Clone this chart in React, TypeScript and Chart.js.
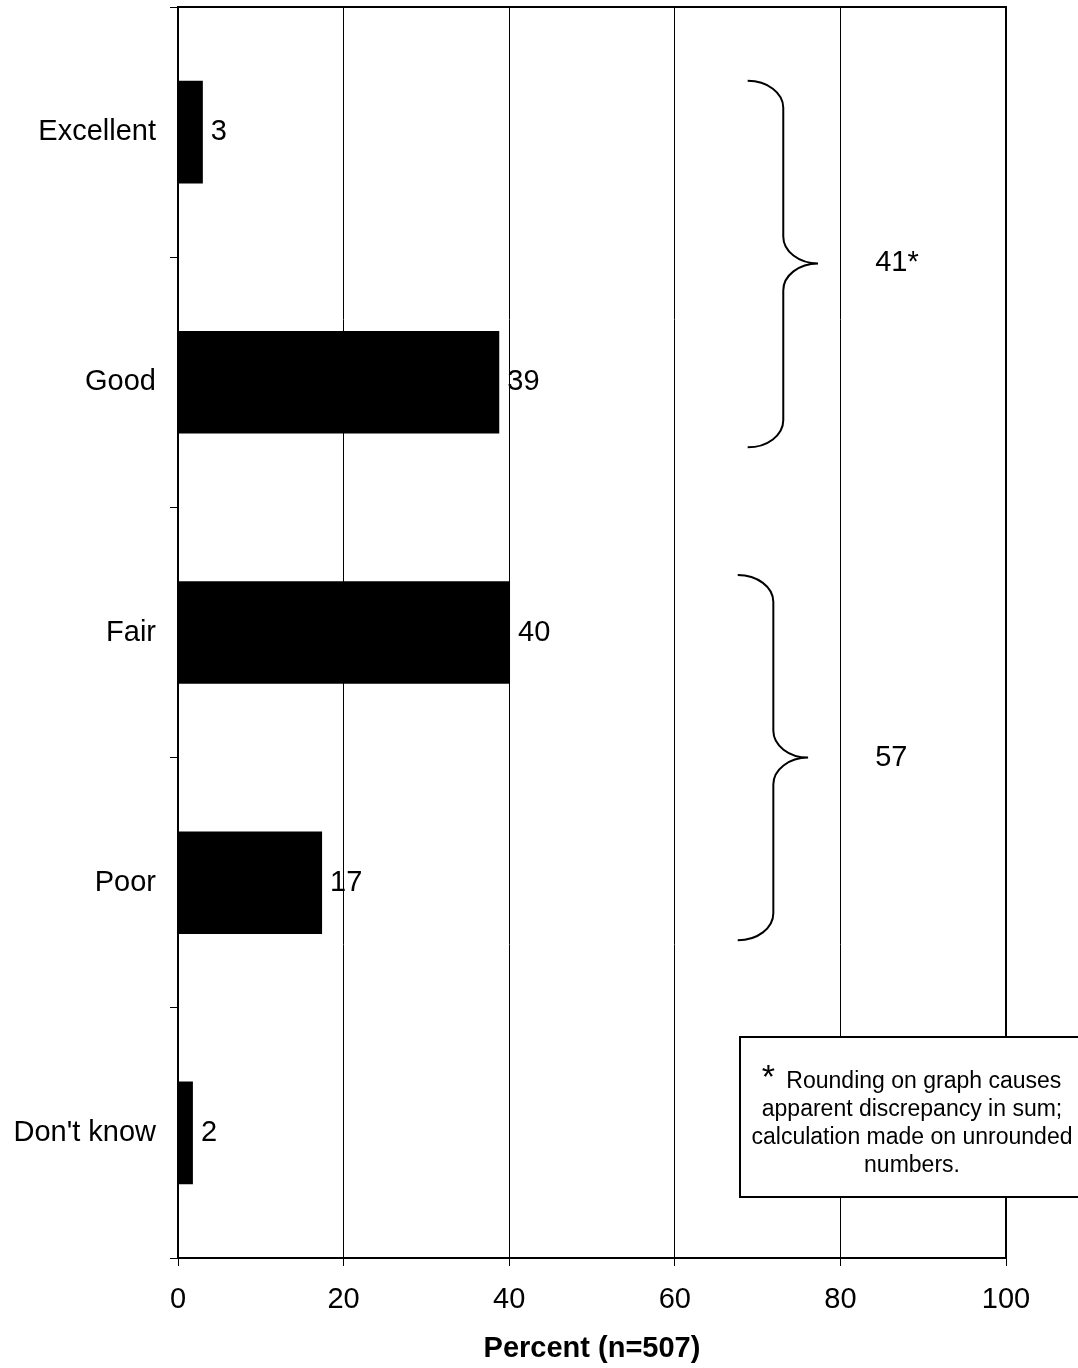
import React, { useEffect, useRef } from "react";
import { Chart, registerables } from "chart.js";

Chart.register(...registerables);

const categories = ["Excellent", "Good", "Fair", "Poor", "Don't know"];
const percentValues = [3.0, 38.8, 40.1, 17.4, 1.8];
const valueLabels = ["3", "39", "40", "17", "2"];
const xTickValues = [0, 20, 40, 60, 80, 100];
const bracketLabels = ["41*", "57"];
const bracketFirstCategory = [0, 2];
const bracketLastCategory = [1, 3];
const footnoteStar = "*";
const footnoteLines = [
  "Rounding on graph causes",
  "apparent discrepancy in sum;",
  "calculation made on unrounded",
  "numbers.",
];
const axisTitle = "Percent (n=507)";

const FONT = "'Liberation Sans', Arial, Helvetica, sans-serif";

// bracket geometry (x in data units, y as offsets in category units)
const bracketGeom = [
  { tip: 68.8, spine: 73.1, point: 77.3, topOff: -0.205, botOff: 0.26, midOff: 0.525, labelX: 84.2 },
  { tip: 67.6, spine: 71.9, point: 76.1, topOff: -0.23, botOff: 0.23, midOff: 0.5, labelX: 84.2 },
];

const framePlugin = {
  id: "frame",
  beforeDatasetsDraw(chart: any) {
    const { ctx, chartArea } = chart;
    ctx.save();
    ctx.strokeStyle = "#000";
    ctx.lineWidth = 2;
    ctx.beginPath();
    ctx.moveTo(chartArea.left, chartArea.top);
    ctx.lineTo(chartArea.right, chartArea.top);
    ctx.lineTo(chartArea.right, chartArea.bottom);
    ctx.stroke();
    ctx.restore();
  },
};

const valueLabelPlugin = {
  id: "valueLabels",
  afterDatasetsDraw(chart: any) {
    const { ctx } = chart;
    const meta = chart.getDatasetMeta(0);
    ctx.save();
    ctx.fillStyle = "#000";
    ctx.font = `29px ${FONT}`;
    ctx.textAlign = "left";
    ctx.textBaseline = "middle";
    meta.data.forEach((el: any, i: number) => {
      ctx.fillText(valueLabels[i], el.x + 8, el.y);
    });
    ctx.restore();
  },
};

const bracketPlugin = {
  id: "brackets",
  afterDatasetsDraw(chart: any) {
    const { ctx } = chart;
    const xs = chart.scales.x;
    const ys = chart.scales.y;
    const catH = Math.abs(ys.getPixelForValue(1) - ys.getPixelForValue(0));
    const k = 0.5523;
    ctx.save();
    ctx.strokeStyle = "#000";
    ctx.lineWidth = 2;
    bracketLabels.forEach((label, i) => {
      const g = bracketGeom[i];
      const tip = xs.getPixelForValue(g.tip);
      const spine = xs.getPixelForValue(g.spine);
      const point = xs.getPixelForValue(g.point);
      const top = ys.getPixelForValue(bracketFirstCategory[i]) + g.topOff * catH;
      const bottom = ys.getPixelForValue(bracketLastCategory[i]) + g.botOff * catH;
      const mid = ys.getPixelForValue(bracketFirstCategory[i]) + g.midOff * catH;
      const r = 27;
      const w = spine - tip;
      const w2 = point - spine;
      ctx.beginPath();
      ctx.moveTo(tip, top);
      ctx.bezierCurveTo(tip + k * w, top, spine, top + r - k * r, spine, top + r);
      ctx.lineTo(spine, mid - r);
      ctx.bezierCurveTo(spine, mid - r + k * r, point - k * w2, mid, point, mid);
      ctx.bezierCurveTo(point - k * w2, mid, spine, mid + r - k * r, spine, mid + r);
      ctx.lineTo(spine, bottom - r);
      ctx.bezierCurveTo(spine, bottom - r + k * r, tip + k * w, bottom, tip, bottom);
      ctx.stroke();

      ctx.fillStyle = "#000";
      ctx.font = `29px ${FONT}`;
      ctx.textAlign = "left";
      ctx.textBaseline = "middle";
      ctx.fillText(label, xs.getPixelForValue(g.labelX), mid);
    });
    ctx.restore();
  },
};

const footnotePlugin = {
  id: "footnote",
  afterDraw(chart: any) {
    const { ctx, chartArea } = chart;
    const left = chartArea.left + 562;
    const top = chartArea.top + 1030;
    const width = 344;
    const height = 160;
    ctx.save();
    ctx.fillStyle = "#fff";
    ctx.fillRect(left, top, width, height);
    ctx.strokeStyle = "#000";
    ctx.lineWidth = 2;
    ctx.strokeRect(left, top, width, height);

    const cx = left + 172;
    ctx.fillStyle = "#000";
    ctx.textBaseline = "alphabetic";
    ctx.font = `34px ${FONT}`;
    const starW = ctx.measureText(footnoteStar).width;
    ctx.font = `23px ${FONT}`;
    const restText = " " + footnoteLines[0];
    const restW = ctx.measureText(restText).width;
    const startX = cx - (starW + restW) / 2;
    const base0 = top + 51;
    ctx.textAlign = "left";
    ctx.font = `34px ${FONT}`;
    ctx.fillText(footnoteStar, startX - 3, base0);
    ctx.font = `23px ${FONT}`;
    ctx.fillText(restText, startX + starW + 2, base0);
    ctx.textAlign = "center";
    for (let i = 1; i < footnoteLines.length; i++) {
      ctx.fillText(footnoteLines[i], cx, base0 + i * 28);
    }
    ctx.restore();
  },
};

export default function App() {
  const canvasRef = useRef<HTMLCanvasElement | null>(null);

  useEffect(() => {
    const canvas = canvasRef.current;
    if (!canvas) return;
    const chart = new Chart(canvas, {
      type: "bar",
      data: {
        labels: categories,
        datasets: [
          {
            data: percentValues,
            backgroundColor: "#000",
            borderWidth: 0,
            barPercentage: 0.41,
            categoryPercentage: 1.0,
          },
        ],
      },
      options: {
        indexAxis: "y",
        responsive: false,
        animation: false,
        events: [],
        layout: { padding: { top: 7, right: 72, left: 0, bottom: 0 } },
        plugins: {
          legend: { display: false },
          tooltip: { enabled: false },
        },
        scales: {
          x: {
            type: "linear",
            min: 0,
            max: 100,
            afterBuildTicks(scale: any) {
              scale.ticks = xTickValues.map((v) => ({ value: v }));
            },
            afterFit(scale: any) {
              scale.height = 110;
              scale.paddingLeft = 0;
              scale.paddingRight = 0;
            },
            ticks: {
              color: "#000",
              font: { family: FONT, size: 29 },
              padding: 17,
              maxRotation: 0,
            },
            grid: {
              color: "#000",
              lineWidth: 1,
              tickLength: 8,
              tickColor: "#000",
            },
            border: { display: true, color: "#000", width: 2 },
            title: {
              display: true,
              text: axisTitle,
              color: "#000",
              font: { family: FONT, size: 29, weight: "bold" },
              padding: { top: 4, bottom: 2 },
            },
          },
          y: {
            type: "category",
            offset: true,
            afterFit(scale: any) {
              scale.width = 178;
              scale.paddingTop = 0;
              scale.paddingBottom = 0;
            },
            ticks: {
              color: "#000",
              font: { family: FONT, size: 29 },
              padding: 14,
            },
            grid: {
              offset: true,
              drawOnChartArea: false,
              drawTicks: true,
              tickLength: 8,
              color: "#000",
              tickColor: "#000",
              lineWidth: 1,
            },
            border: { display: true, color: "#000", width: 2 },
          },
        },
      },
      plugins: [framePlugin, valueLabelPlugin, bracketPlugin, footnotePlugin],
    } as any);
    return () => chart.destroy();
  }, []);

  return (
    <div style={{ position: "absolute", left: 0, top: 0, width: 1078, height: 1368, background: "#fff" }}>
      <canvas ref={canvasRef} width={1078} height={1368} style={{ display: "block" }} />
    </div>
  );
}
